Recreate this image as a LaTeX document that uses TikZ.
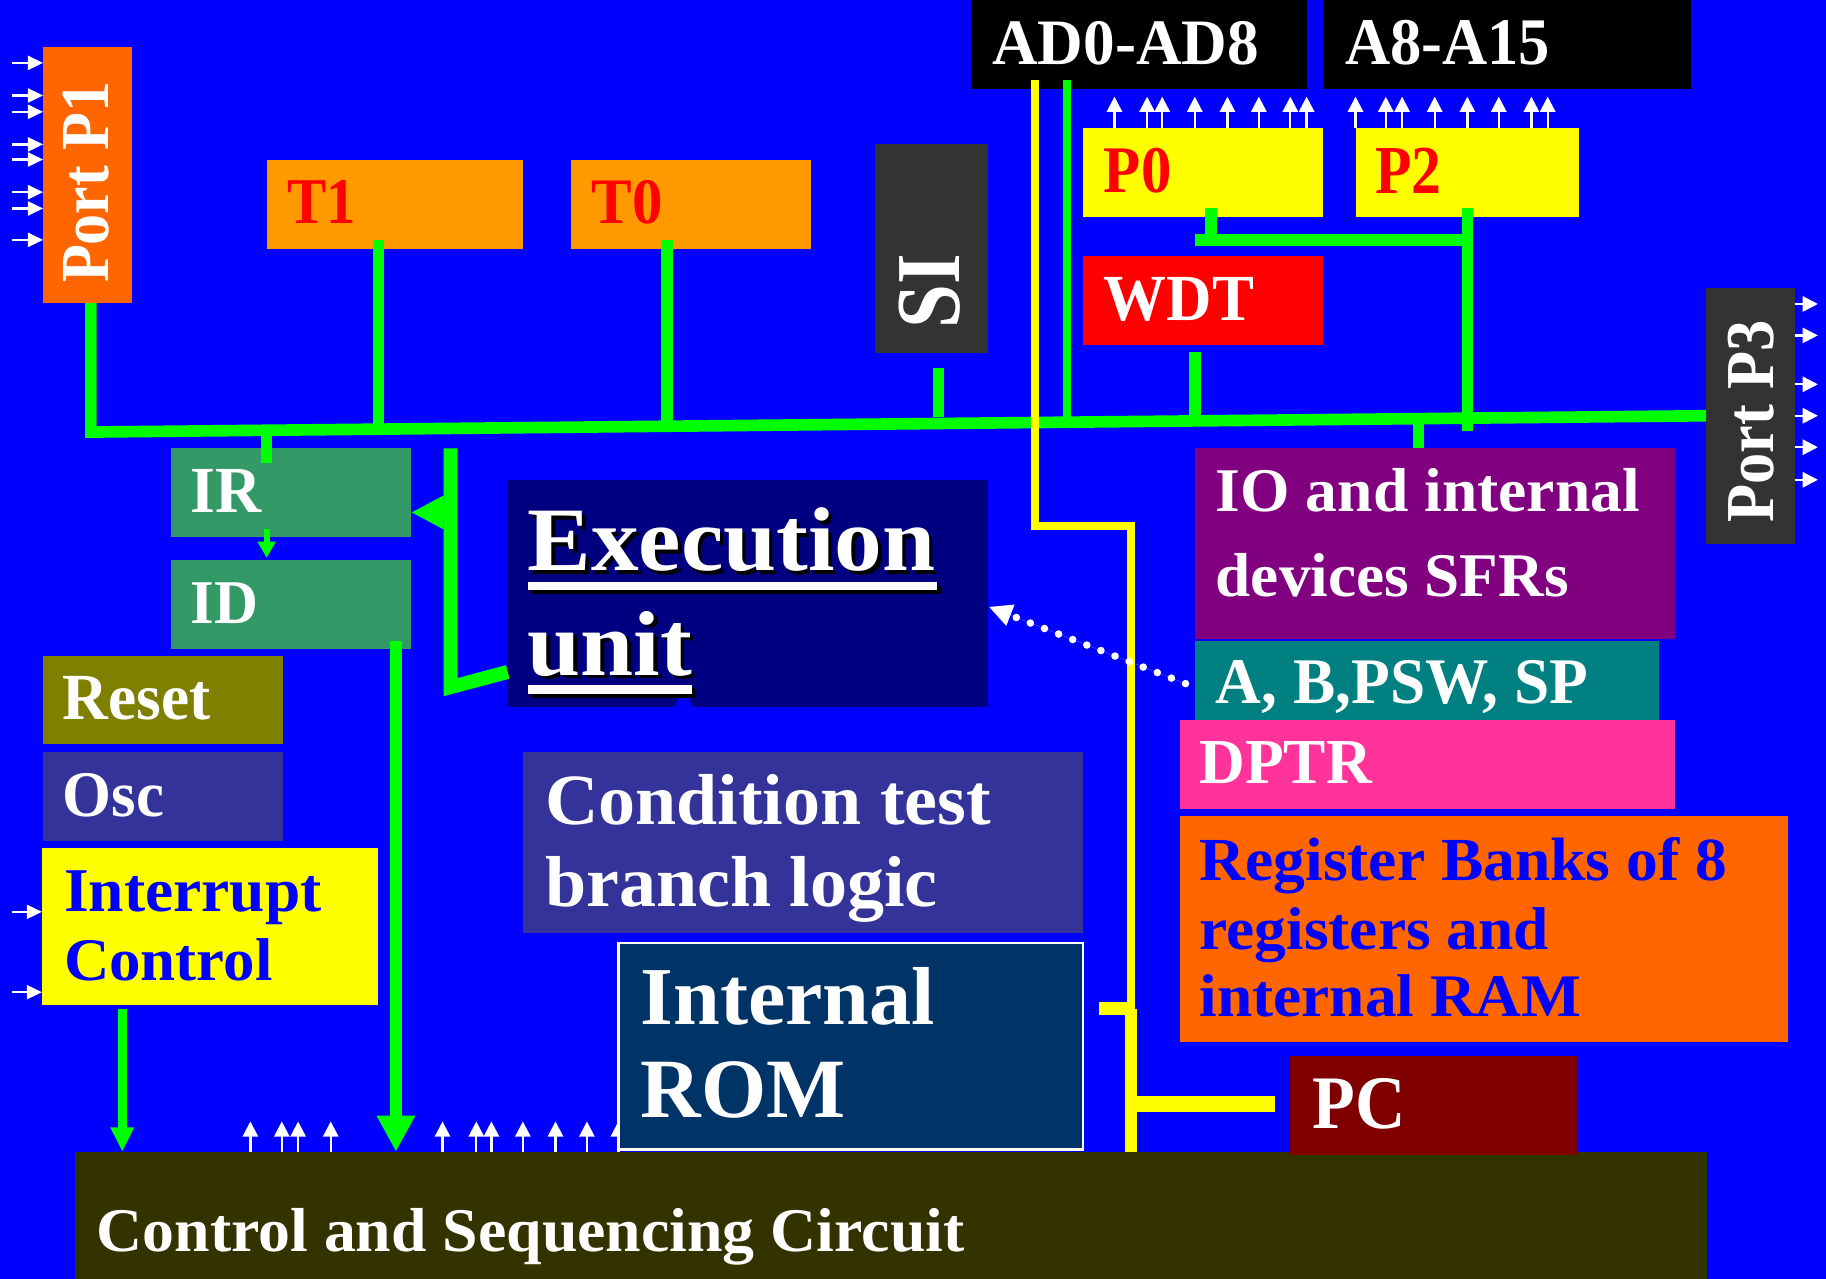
\documentclass[tikz,border=0pt]{standalone}
\usepackage{fontspec}
\setmainfont{Liberation Serif}
\usetikzlibrary{arrows.meta,fit}
\definecolor{bg}{HTML}{0000FF}
\definecolor{gn}{HTML}{00FF00}
\definecolor{yl}{HTML}{FFFF00}
\definecolor{orA}{HTML}{FF6600}
\definecolor{orB}{HTML}{FF9900}
\definecolor{dg}{HTML}{333333}
\definecolor{rd}{HTML}{FF0000}
\definecolor{pu}{HTML}{800080}
\definecolor{tl}{HTML}{008080}
\definecolor{pk}{HTML}{FF3399}
\definecolor{mr}{HTML}{800000}
\definecolor{ol}{HTML}{333300}
\definecolor{romc}{HTML}{003366}
\definecolor{ind}{HTML}{333399}
\definecolor{nv}{HTML}{000080}
\definecolor{sg}{HTML}{339966}
\definecolor{olv}{HTML}{808000}
\newcommand\RB[3]{\resizebox{#1pt}{#2pt}{\bfseries #3}}
\begin{document}
\begin{tikzpicture}[x=1pt,y=-1pt,
 box/.style={inner sep=0pt,outer sep=0pt,draw=none},
 lbl/.style={inner sep=0pt,outer sep=0pt,anchor=base west,text=white},
 gline/.style={draw=gn,line width=10pt},
 yline/.style={draw=yl,line width=7pt},
 warr/.style={draw=white,fill=white,line width=2pt,-{Triangle[length=13pt,width=13pt]}},
]
\fill[bg] (0,0) rectangle (1568,1098);
\useasboundingbox (0,0) rectangle (1568,1098);
% boxes
\node[box,fill=orA,fit={(37,40)(113,260)}] (p1) {};
\node[box,fill=orB,fit={(229,137)(449,214)}] (t1) {};
\node[box,fill=orB,fit={(490,137)(696,214)}] (t0) {};
\node[box,fill=dg,fit={(751,124)(848,303)}] (si) {};
\node[box,fill=black,fit={(834,0)(1122,76)}] (ad) {};
\node[box,fill=black,fit={(1136,0)(1452,76)}] (ah) {};
\node[box,fill=yl,fit={(930,110)(1136,186)}] (p0) {};
\node[box,fill=yl,fit={(1164,110)(1356,186)}] (p2) {};
\node[box,fill=rd,fit={(930,220)(1136,296)}] (wdt) {};
\node[box,fill=dg,fit={(1465,247)(1541,467)}] (p3) {};
\node[box,fill=pu,fit={(1026,385)(1438,549)}] (io) {};
\node[box,fill=tl,fit={(1026,550)(1425,618)}] (abp) {};
\node[box,fill=pk,fit={(1013,618)(1438,695)}] (dptr) {};
\node[box,fill=orA,fit={(1013,701)(1535,895)}] (reg) {};
\node[box,fill=ol,fit={(64,989)(1466,1098)}] (ctl) {};
\node[box,fill=mr,fit={(1108,907)(1355,992)}] (pc) {};
\node[box,fill=ind,fit={(449,646)(930,801)}] (cond) {};
\node[box,fill=nv,fit={(435,412)(848,607)}] (exec) {};
\node[box,fill=sg,fit={(147,385)(353,461)}] (ir) {};
\node[box,fill=sg,fit={(147,481)(353,557)}] (id) {};
\node[box,fill=olv,fit={(37,563)(243,639)}] (rst) {};
\node[box,fill=ind,fit={(37,646)(243,722)}] (osc) {};
\node[box,fill=yl,fit={(36,728)(325,863)}] (intr) {};
% arrows into control circuit
\foreach \x in {215,242,256,284,380,409,422,449,477,504,531}
  \draw[warr] (\x,989) -- (\x,963);
\node[box,fill=romc,draw=white,line width=2pt,fit={(531,810)(930,987)}] (rom) {};
% coordinates
\coordinate (busL) at (78,371);
\coordinate (busR) at (1465,357);
\coordinate (p1b) at (78,260);
\coordinate (t1b) at (325,206);  \coordinate (t1j) at (325,368.5);
\coordinate (t0b) at (573,206);  \coordinate (t0j) at (573,366);
\coordinate (sib) at (806,316);  \coordinate (sij) at (806,358.5);
\coordinate (adg) at (916,69);   \coordinate (adj) at (916,362.5);
\coordinate (wdb) at (1026,302); \coordinate (wdj) at (1026,361.4);
\coordinate (p0b) at (1040,179); \coordinate (p0j) at (1040,206);
\coordinate (hl) at (1026,206);  \coordinate (hr) at (1260,206);
\coordinate (p2b) at (1260,179); \coordinate (p2e) at (1260,370);
\coordinate (ioj) at (1218,359.5); \coordinate (iot) at (1218,385);
\coordinate (irj) at (229,369.5); \coordinate (irt) at (229,398);
\coordinate (irb) at (229,454); \coordinate (idt) at (229,479);
\coordinate (idb) at (340,550); \coordinate (ctlA) at (340,989);
\coordinate (inb) at (105,866); \coordinate (ctlB) at (105,989);
\coordinate (exL) at (436,577); \coordinate (exC) at (387,590); \coordinate (exT) at (387,385);
\coordinate (exA) at (387,440); \coordinate (irR) at (353,440);
\coordinate (ya) at (889,69); \coordinate (yb) at (889,452); \coordinate (yc) at (971,452);
\coordinate (yd) at (971,866); \coordinate (ye) at (944,866); \coordinate (yf) at (971,989);
\coordinate (yg) at (971,948); \coordinate (yh) at (1095,948);
\coordinate (dotS) at (1018,587); \coordinate (dotE) at (849,521);
% green lines
\draw[gline] (p1b) -- (busL) -- (busR);
\draw[gline] (t1b) -- (t1j);
\draw[gline] (t0b) -- (t0j);
\draw[gline] (sib) -- (sij);
\draw[gline,line width=7pt] (adg) -- (adj);
\draw[gline] (wdb) -- (wdj);
\draw[gline] (p0b) -- (p0j);
\draw[gline] (hl) -- (hr);
\draw[gline] (p2b) -- (p2e);
\draw[gline] (ioj) -- (iot);
\draw[gline,line width=9pt] (irj) -- (irt);
\draw[gline,line width=5pt,-{Triangle[length=14pt,width=15pt]}] (irb) -- (idt);
\draw[gline,-{Triangle[length=31pt,width=31pt]}] (idb) -- (ctlA);
\draw[gline,line width=8pt,-{Triangle[length=21pt,width=19pt]}] (inb) -- (ctlB);
\draw[gline,line width=12pt] (exL) -- (exC) -- (exT);
\draw[gline,line width=12pt,-{Triangle[length=28pt,width=27pt]}] (exA) -- (irR);
% yellow lines
\draw[yline] (ya) -- (yb) -- (yc) -- (yd);
\draw[yline,line width=12pt] (ye) -- (yd);
\draw[yline,line width=10pt] (yd) -- (yf);
\draw[yline,line width=13pt] (yg) -- (yh);
% dotted arrow
\draw[white,fill=white,line width=6.5pt,line cap=round,dash pattern=on 0pt off 13pt,-{Triangle[length=20pt,width=18pt]}] (dotS) -- (dotE);
\fill[bg] (579,607) -- (587,591) -- (595,607) -- cycle;
% white arrows
\foreach \y in {54,82,96,124,137,165,179,206}
  \draw[warr,-{Triangle[length=13pt,width=12pt]}] (10,\y) -- (p1.west |- 0,\y);
\foreach \x in {957,985,998,1026,1054,1081,1108,1122,1164,1190,1204,1232,1260,1287,1315,1329}
  \draw[warr] (\x,110) -- (\x,83);
\foreach \y in {261,288,330,357,384,412}
  \draw[warr] (p3.east |- 0,\y) -- (1561,\y);
\foreach \y in {783,852}
  \draw[warr,-{Triangle[length=13pt,width=12pt]}] (10,\y) -- (intr.west |- 0,\y);
% texts
\node[lbl,rotate=90] (p1t) at (93,243) {\RB{173}{39}{Port P1}};
\node[lbl,text=rd] (t1t) at (247,192) {\RB{59}{37}{T1}};
\node[lbl,text=rd] (t0t) at (508,192) {\RB{61}{37}{T0}};
\node[lbl,rotate=90] (sit) at (824,282) {\RB{64}{52}{SI}};
\node[lbl] (adt) at (852,55) {\RB{229}{37}{AD0-AD8}};
\node[lbl] (aht) at (1155,55) {\RB{176}{38}{A8-A15}};
\node[lbl,text=rd] (p0t) at (948,165) {\RB{58}{38}{P0}};
\node[lbl,text=rd] (p2t) at (1181,166) {\RB{57}{39}{P2}};
\node[lbl] (wdtt) at (948,275) {\RB{129}{37}{WDT}};
\node[lbl,rotate=90] (p3t) at (1523,449) {\RB{174}{39}{Port P3}};
\node[lbl] (iot1) at (1044,439) {\RB{364}{37}{IO and internal}};
\node[lbl] (iot2) at (1044,512) {\RB{303}{37}{devices SFRs}};
\node[lbl] (abpt) at (1044,604) {\RB{320}{37}{A, B,PSW, SP}};
\node[lbl] (dptrt) at (1030,673) {\RB{148}{36}{DPTR}};
\node[lbl,text=bg] (regt1) at (1030,756) {\RB{453}{37}{Register Banks of 8}};
\node[lbl,text=bg] (regt2) at (1030,815) {\RB{300}{36}{registers and}};
\node[lbl,text=bg] (regt3) at (1030,873) {\RB{328}{36}{internal RAM}};
\node[lbl] (pct) at (1127,969) {\RB{80}{43}{PC}};
\node[lbl] (ctlt) at (83,1075) {\RB{745}{37}{Control and Sequencing Circuit}};
\node[lbl] (romt1) at (550,880) {\RB{253}{49}{Internal}};
\node[lbl] (romt2) at (550,960) {\RB{176}{48}{ROM}};
\node[lbl] (condt1) at (468,708) {\RB{383}{43}{Condition test}};
\node[lbl] (condt2) at (468,778) {\RB{337}{43}{branch logic}};
% execution unit with shadow and underline
\fill[black] (456,503) rectangle (808,510);
\fill[black] (456,591) rectangle (597,599);
\node[lbl,text=black] (exs1) at (456,493) {\RB{350}{54}{Execution}};
\node[lbl,text=black] (exs2) at (456,583) {\RB{141}{55}{unit}};
\fill[white] (453,500) rectangle (805,507);
\fill[white] (453,588) rectangle (594,596);
\node[lbl] (ext1) at (453,490) {\RB{350}{54}{Execution}};
\node[lbl] (ext2) at (453,580) {\RB{141}{55}{unit}};
\node[lbl] (irtx) at (164,440) {\RB{61}{37}{IR}};
\node[lbl] (idtx) at (164,535) {\RB{58}{35}{ID}};
\node[lbl] (rstt) at (54,618) {\RB{127}{37}{Reset}};
\node[lbl] (osct) at (54,701) {\RB{87}{37}{Osc}};
\node[lbl,text=bg] (intt1) at (55,783) {\RB{221}{35}{Interrupt}};
\node[lbl,text=bg] (intt2) at (55,842) {\RB{179}{36}{Control}};
\end{tikzpicture}
\end{document}
